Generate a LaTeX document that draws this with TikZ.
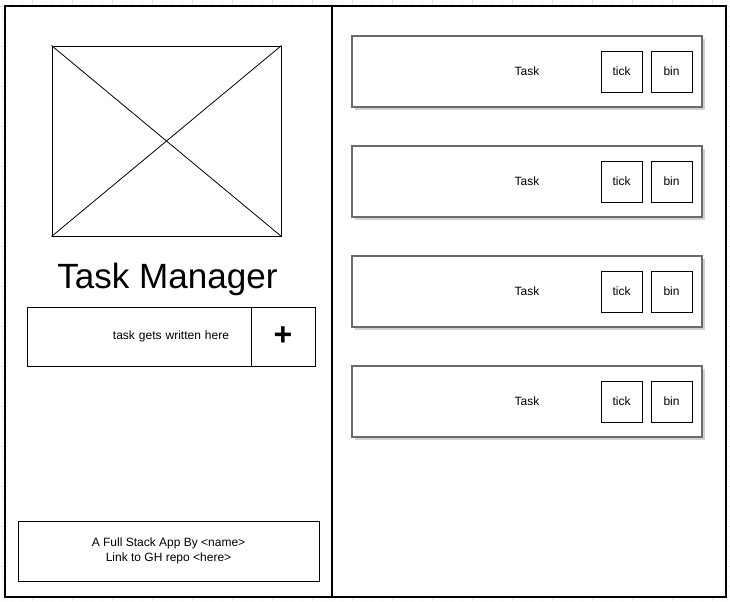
\documentclass[tikz,border=0pt]{standalone}
\usepackage{fontspec}
\setmainfont{Liberation Sans}
\usetikzlibrary{shadows}
\definecolor{gridminor}{HTML}{F3F3F3}
\definecolor{gridmajor}{HTML}{E8E8E8}
\definecolor{cardline}{HTML}{6B6B6B}
\begin{document}
\begin{tikzpicture}[x=0.75pt,y=-0.75pt,
  panel/.style={draw=black, line width=0.8pt, fill=white},
  box/.style={draw=black, line width=0.75pt, fill=white, inner sep=0pt, font=\fontsize{9pt}{11.25pt}\selectfont},
  card/.style={draw=cardline, line width=1.1pt, fill=white, inner sep=0pt,
    minimum width=262.5pt, minimum height=53.25pt, font=\fontsize{9pt}{11.25pt}\selectfont,
    drop shadow={shadow xshift=2pt, shadow yshift=-2pt, fill=black, opacity=0.18}},
  btn/.style={box, minimum width=30.75pt, minimum height=30.75pt},
  title/.style={inner sep=0pt, font=\fontsize{26.3pt}{32pt}\selectfont}
]
\useasboundingbox (0,0) rectangle (730,601);

% background grid
\foreach \gx in {2,12,...,722} \draw[gridminor, line width=0.75pt] (\gx,0) -- (\gx,601);
\foreach \gy in {6,16,...,596} \draw[gridminor, line width=0.75pt] (0,\gy) -- (730,\gy);
\foreach \gx in {32,72,...,712} \draw[gridmajor, line width=0.75pt] (\gx,0) -- (\gx,601);
\foreach \gy in {6,46,...,566} \draw[gridmajor, line width=0.75pt] (0,\gy) -- (730,\gy);

% two panels
\draw[panel] (5,6) rectangle (332,597);
\draw[panel] (332,6) rectangle (726,597);

% image placeholder
\node[box, minimum width=171.75pt, minimum height=142.5pt] (logo) at (166.5,141) {};
\draw[line width=0.6pt] (logo.north west) -- (logo.south east);
\draw[line width=0.6pt] (logo.north east) -- (logo.south west);

% title
\node[title] (title) at (167.5,279) {Task Manager};

% input row
\node[box, minimum width=168pt, minimum height=44.25pt, text width=135pt, inner xsep=16.5pt, align=right] (input) at (139,336.5) {\raisebox{-1.2pt}{task gets written here}};
\node[box, minimum width=48pt, minimum height=44.25pt, font=\fontsize{24pt}{28pt}\bfseries\selectfont] (add) at (283,336.5) {+};

% footer
\node[box, minimum width=225.75pt, minimum height=45pt, align=center] (footer) at (168.5,551) {\raisebox{-0.8pt}{A Full Stack App By <name>}\\\raisebox{-0.8pt}{Link to GH repo <here>}};

% task cards
\foreach \i in {1,...,4} {
  \pgfmathsetmacro\cy{72.2+110*(\i-1)}
  \pgfmathsetmacro\by{71.5+110*(\i-1)}
  \node[card] (card\i) at (527,\by) {\raisebox{-0.6pt}{Task}};
  \node[btn] (tick\i) at (621.5,\by) {tick};
  \node[btn] (bin\i) at (671.5,\by) {bin};
}
\end{tikzpicture}
\end{document}
